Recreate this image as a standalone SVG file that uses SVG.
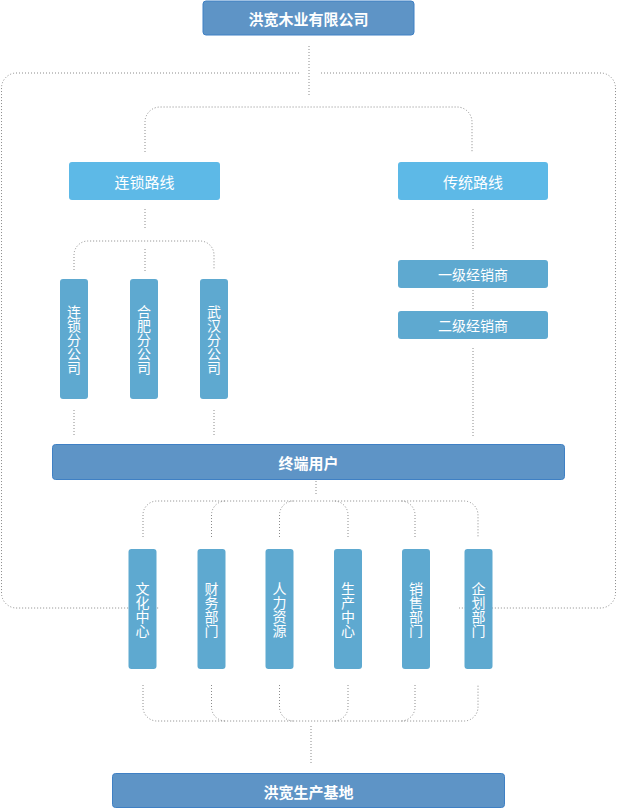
<svg xmlns="http://www.w3.org/2000/svg" width="617" height="809" viewBox="0 0 617 809">
<style>
.con{fill:none;stroke:#8a8a8a;stroke-width:1;stroke-dasharray:1 2}
.dark{fill:#5e94c6;stroke:#3f80c4;stroke-width:1}
.light{fill:#5db9e7}
.mid{fill:#5ea9d0}
text{font-family:"Noto Sans CJK SC","Noto Sans",sans-serif;fill:#fff;text-anchor:middle;dominant-baseline:central}
.b{font-weight:bold;font-size:15px}
.r{font-size:15px}
.s{font-size:14px}
.v{font-size:14px}
</style>
<rect width="617" height="809" fill="#fff"/>
<g id="connectors">
<path class="con" d="M309 46V96"/>
<path class="con" d="M299 73H16A15 15 0 0 0 1.5 88V593A15 15 0 0 0 16 608H159"/>
<path class="con" d="M321 73H601A15 15 0 0 1 615.5 88V593A15 15 0 0 1 601 608H459"/>
<path class="con" d="M145 152V122A15 15 0 0 1 160 107H457A15 15 0 0 1 472 122V152"/>
<path class="con" d="M145 209V229"/>
<path class="con" d="M74 270V255A14 14 0 0 1 88 241H200A14 14 0 0 1 214 255V270"/>
<path class="con" d="M145 249V271"/>
<path class="con" d="M74 410V436M214 410V436"/>
<path class="con" d="M473 209V249M473 290V310M473 348V438"/>
<path class="con" d="M316 481V496"/>
<path class="con" d="M143 537V515A14 14 0 0 1 157 501H464A14 14 0 0 1 478 515V537"/>
<path class="con" d="M211.5 537V515A14 14 0 0 1 225.5 501M279.5 537V515A14 14 0 0 1 293.5 501M348 537V515A14 14 0 0 0 334 501M415 537V515A14 14 0 0 0 401 501"/>
<path class="con" d="M143 685V707A14 14 0 0 0 157 721H464A14 14 0 0 0 478 707V685"/>
<path class="con" d="M211.5 685V707A14 14 0 0 0 225.5 721M279.5 685V707A14 14 0 0 0 293.5 721M348 685V707A14 14 0 0 1 334 721M415 685V707A14 14 0 0 1 401 721"/>
<path class="con" d="M311 726V763"/>
</g>
<g id="n-top"><rect class="dark" x="203" y="1" width="211" height="34" rx="3"/><text class="b" x="308.5" y="18">洪宽木业有限公司</text></g>
<g id="n-chain"><rect class="light" x="69" y="162" width="151" height="38" rx="3"/><text class="r" x="144.5" y="181">连锁路线</text></g>
<g id="n-trad"><rect class="light" x="398" y="162" width="150" height="38" rx="3"/><text class="r" x="473" y="181">传统路线</text></g>
<g id="n-ls"><rect class="mid" x="60" y="279" width="28" height="120" rx="3"/><text class="v"><tspan x="74" y="311">连</tspan><tspan x="74" y="325">锁</tspan><tspan x="74" y="339">分</tspan><tspan x="74" y="353">公</tspan><tspan x="74" y="367">司</tspan></text></g>
<g id="n-hf"><rect class="mid" x="130" y="279" width="28" height="120" rx="3"/><text class="v"><tspan x="144" y="311">合</tspan><tspan x="144" y="325">肥</tspan><tspan x="144" y="339">分</tspan><tspan x="144" y="353">公</tspan><tspan x="144" y="367">司</tspan></text></g>
<g id="n-wh"><rect class="mid" x="200" y="279" width="28" height="120" rx="3"/><text class="v"><tspan x="214" y="311">武</tspan><tspan x="214" y="325">汉</tspan><tspan x="214" y="339">分</tspan><tspan x="214" y="353">公</tspan><tspan x="214" y="367">司</tspan></text></g>
<g id="n-d1"><rect class="mid" x="398" y="260" width="150" height="28" rx="3"/><text class="s" x="473" y="274">一级经销商</text></g>
<g id="n-d2"><rect class="mid" x="398" y="311" width="150" height="28" rx="3"/><text class="s" x="473" y="325">二级经销商</text></g>
<g id="n-end"><rect class="dark" x="52.5" y="444.5" width="512" height="35" rx="3"/><text class="b" x="308.5" y="462">终端用户</text></g>
<g id="n-wh2"><rect class="mid" x="128.5" y="549" width="28" height="120" rx="3"/><text class="v"><tspan x="142.5" y="588">文</tspan><tspan x="142.5" y="602">化</tspan><tspan x="142.5" y="616">中</tspan><tspan x="142.5" y="630">心</tspan></text></g>
<g id="n-cw"><rect class="mid" x="197.5" y="549" width="28" height="120" rx="3"/><text class="v"><tspan x="211.5" y="588">财</tspan><tspan x="211.5" y="602">务</tspan><tspan x="211.5" y="616">部</tspan><tspan x="211.5" y="630">门</tspan></text></g>
<g id="n-rl"><rect class="mid" x="265.5" y="549" width="28" height="120" rx="3"/><text class="v"><tspan x="279.5" y="588">人</tspan><tspan x="279.5" y="602">力</tspan><tspan x="279.5" y="616">资</tspan><tspan x="279.5" y="630">源</tspan></text></g>
<g id="n-sc"><rect class="mid" x="334" y="549" width="28" height="120" rx="3"/><text class="v"><tspan x="348" y="588">生</tspan><tspan x="348" y="602">产</tspan><tspan x="348" y="616">中</tspan><tspan x="348" y="630">心</tspan></text></g>
<g id="n-xs"><rect class="mid" x="402" y="549" width="28" height="120" rx="3"/><text class="v"><tspan x="416" y="588">销</tspan><tspan x="416" y="602">售</tspan><tspan x="416" y="616">部</tspan><tspan x="416" y="630">门</tspan></text></g>
<g id="n-qh"><rect class="mid" x="464.5" y="549" width="28" height="120" rx="3"/><text class="v"><tspan x="478.5" y="588">企</tspan><tspan x="478.5" y="602">划</tspan><tspan x="478.5" y="616">部</tspan><tspan x="478.5" y="630">门</tspan></text></g>
<g id="n-base"><rect class="dark" x="112.5" y="773.5" width="392" height="34" rx="3"/><text class="b" x="308.5" y="791">洪宽生产基地</text></g>
</svg>
